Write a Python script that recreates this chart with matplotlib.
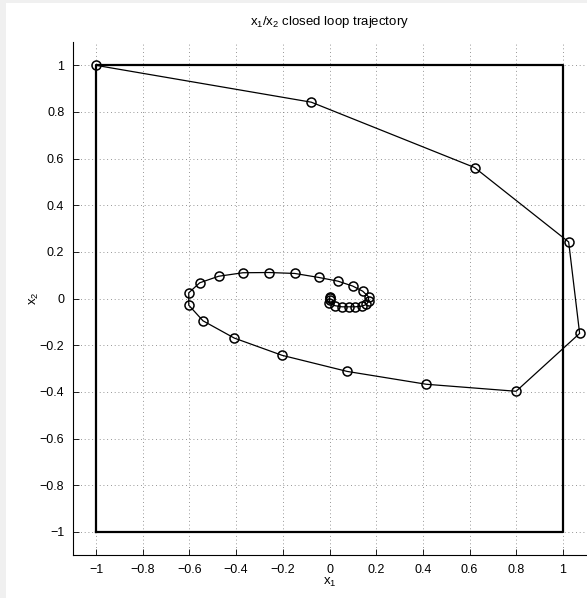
import numpy as np
import matplotlib
matplotlib.use("Agg")
from matplotlib import pyplot as plt
from matplotlib.patches import Rectangle

plt.rcParams['font.family'] = ['Liberation Sans', 'DejaVu Sans']
plt.rcParams['mathtext.default'] = 'regular'
plt.rcParams['axes.unicode_minus'] = True

# closed loop state trajectory (x1, x2)
x1 = [-1.0, -0.078, 0.621, 1.024, 1.071, 0.799, 0.415, 0.076, -0.203, -0.408,
      -0.542, -0.603, -0.603, -0.556, -0.475, -0.371, -0.259, -0.149, -0.047, 0.036,
      0.099, 0.142, 0.167, 0.167, 0.158, 0.139, 0.110, 0.082, 0.053, 0.022,
      -0.004, 0.0, 0.0, 0.001]
x2 = [1.0, 0.842, 0.562, 0.243, -0.149, -0.397, -0.367, -0.312, -0.243, -0.169,
      -0.095, -0.028, 0.025, 0.068, 0.096, 0.111, 0.112, 0.108, 0.091, 0.075,
      0.054, 0.032, 0.008, -0.011, -0.025, -0.032, -0.035, -0.035, -0.035, -0.030,
      -0.018, -0.006, 0.001, 0.007]

# state constraint box
box_x = [-1, 1, 1, -1, -1]
box_y = [-1, -1, 1, 1, -1]

ticks = [-1, -0.8, -0.6, -0.4, -0.2, 0, 0.2, 0.4, 0.6, 0.8, 1]
tick_labels = ['\u22121', '\u22120.8', '\u22120.6', '\u22120.4', '\u22120.2', '0',
               '0.2', '0.4', '0.6', '0.8', '1']

fig = plt.figure(figsize=(5.87, 5.98), dpi=100, facecolor='#f0f0f0')
fig.patches.append(Rectangle((6 / 587, 0), 1, 1 - 3 / 598, transform=fig.transFigure,
                             facecolor='white', edgecolor='none', zorder=-1))
ax = fig.add_axes([72.7 / 587, 1 - 555.3 / 598, 513.7 / 587, 513.3 / 598])

ax.plot(box_x, box_y, color='black', lw=1.6, zorder=3)
ax.plot(x1, x2, color='black', lw=0.9, marker='o', markersize=6.5,
        markerfacecolor='none', markeredgewidth=1.1, zorder=4)

ax.set_xlim(-1.1, 1.1)
ax.set_ylim(-1.1, 1.1)
ax.set_xticks(ticks)
ax.set_xticklabels(tick_labels)
ax.set_yticks(ticks)
ax.set_yticklabels(tick_labels)
ax.tick_params(direction='in', length=4, width=0.6, labelsize=9, pad=6)
ax.grid(True, color='0.45', linestyle=(0, (1, 3.5)), linewidth=0.6)
ax.spines['top'].set_visible(False)
ax.spines['right'].set_visible(False)
for s in ['left', 'bottom']:
    ax.spines[s].set_linewidth(0.8)

ax.set_title('$x_1$/$x_2$ closed loop trajectory', fontsize=9.5, pad=12)
ax.set_xlabel('$x_1$', fontsize=9.5, labelpad=0)
ax.set_ylabel('$x_2$', fontsize=9.5, labelpad=-1)

fig.savefig('out.png', dpi=100, facecolor=fig.get_facecolor())
